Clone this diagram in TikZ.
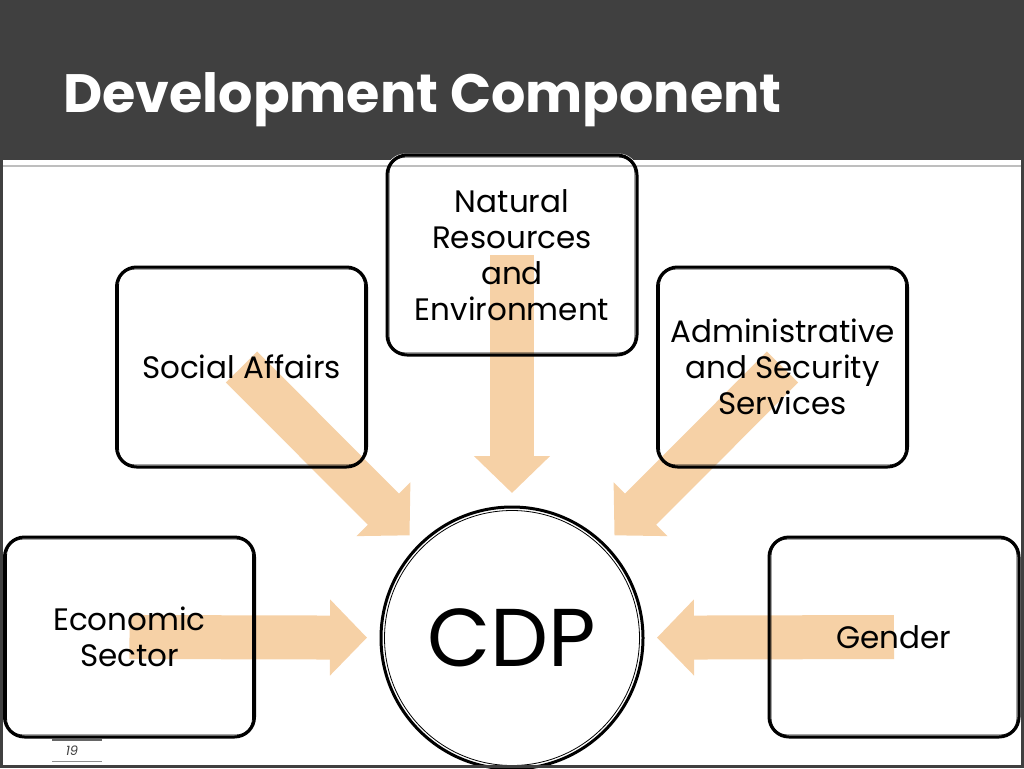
\documentclass[tikz,border=0pt]{standalone}
\usepackage{fontspec}
\setmainfont{Poppins}
\usetikzlibrary{arrows.meta,calc}
\definecolor{bar}{RGB}{64,64,64}
\definecolor{peach}{RGB}{246,209,166}
\definecolor{rule}{RGB}{190,190,190}
\pgfdeclarelayer{bg}
\pgfdeclarelayer{mid}
\pgfsetlayers{bg,mid,main}
\begin{document}
\begin{tikzpicture}[x=1pt,y=-1pt,
  box/.style={draw=black,line width=3pt,rounded corners=20pt,minimum width=250pt,minimum height=200pt,inner sep=0pt,align=center,font=\fontsize{31}{36}\selectfont},
  inring/.style={draw=black,line width=0.8pt},
  flow/.style={draw=peach,line width=44pt,-{Triangle[length=37pt,width=74pt]}},
  boxfill/.style={fill=white,rounded corners=20pt},
  titletext/.style={text=white,font=\fontsize{54}{60}\bfseries\selectfont,anchor=base west,inner sep=0pt},
]
\useasboundingbox (0,0) rectangle (1024,768);
% nodes
\node[box] (nat) at (512,255) {Natural\\Resources\\and\\Environment};
\node[box] (soc) at (241.5,367) {Social Affairs};
\node[box] (adm) at (782.5,367) {Administrative\\and Security\\Services};
\node[box] (eco) at (129.5,637) {Economic\\Sector};
\node[box] (gen) at (894,637) {Gender};
\node[circle,draw=black,line width=3pt,minimum size=262pt,inner sep=0pt,font=\fontsize{82}{90}\selectfont] (cdp) at (512,638) {CDP};
% inner rings
\foreach \n in {nat,soc,adm,eco,gen}{
  \draw[inring,rounded corners=16.5pt] ([shift={(3.5pt,3.5pt)}]\n.south west) rectangle ([shift={(-3.5pt,-3.5pt)}]\n.north east);
}
\draw[inring] (cdp.center) circle (127.5pt);
% background
\begin{pgfonlayer}{bg}
  \fill[bar] (0,0) rectangle (1024,160);
  \foreach \n in {nat,soc,adm,eco,gen}{
    \fill[boxfill] (\n.south west) rectangle (\n.north east);
  }
  \fill[white] (cdp.center) circle (131pt);
  \draw[rule,line width=2pt] (0,166) -- (1021,166);
\end{pgfonlayer}
% arrows
\begin{pgfonlayer}{mid}
  \foreach \n in {nat,soc,adm,eco,gen}{
    \draw[flow] (\n.center) -- ($(cdp.center)!145pt!(\n.center)$);
  }
\end{pgfonlayer}
% title
\node[titletext] (title) at (63,112) {Development Component};
% frame
\fill[bar] (0,160) rectangle (3,768);
\fill[bar] (1020.5,160) rectangle (1024,768);
\fill[bar] (0,765) rectangle (1024,768);
% page number
\node[text=bar,font=\fontsize{13}{15}\itshape\selectfont,inner sep=0pt] (pg) at (72,751) {19};
\coordinate (la) at (52,740);
\coordinate (lb) at (102,740);
\coordinate (lc) at (52,761);
\coordinate (ld) at (102,761);
\draw[bar!80,line width=2pt] (la) -- (lb);
\draw[bar!60,line width=1pt] (lc) -- (ld);
\end{tikzpicture}
\end{document}
